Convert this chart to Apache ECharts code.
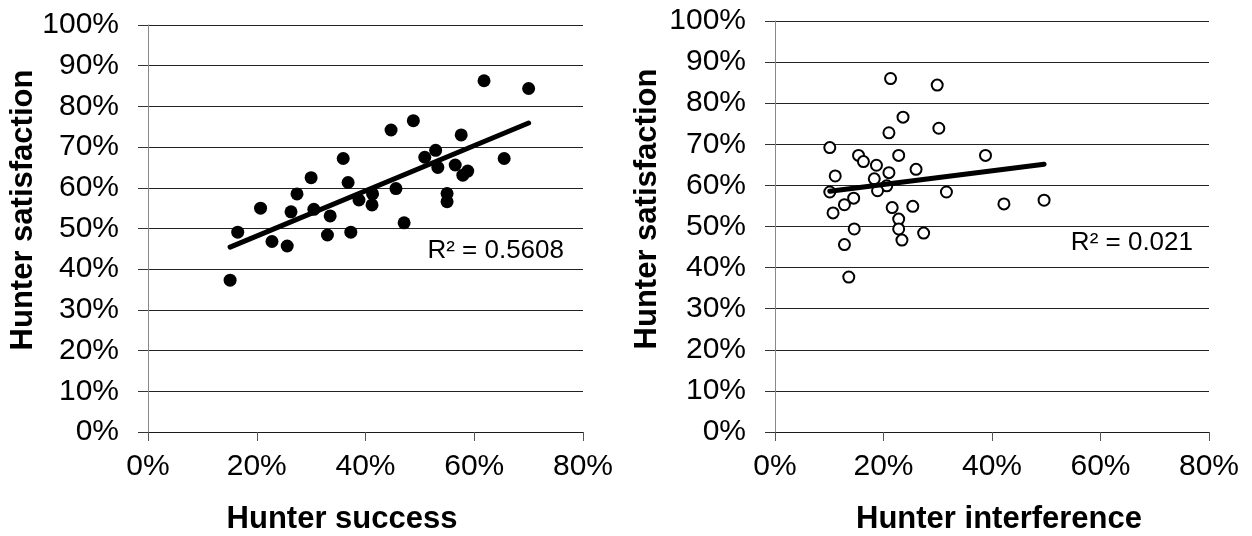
<!DOCTYPE html>
<html>
<head>
<meta charset="utf-8">
<script src="https://cdn.jsdelivr.net/npm/echarts@6/dist/echarts.min.js"></script>
<style>
    html, body { margin: 0; padding: 0; background: #fff; }
    #main { width: 1252px; height: 536px; }
</style>
</head>
<body>
<div id="main"></div>
<script>
    // hunter success vs satisfaction (left panel)
    const successX = [0.151, 0.165, 0.207, 0.228, 0.256, 0.263, 0.274, 0.300, 0.305, 0.330, 0.335,
        0.359, 0.368, 0.373, 0.388, 0.412, 0.413, 0.447, 0.456, 0.471, 0.488, 0.509,
        0.529, 0.533, 0.550, 0.550, 0.565, 0.576, 0.579, 0.588, 0.618, 0.655, 0.700]
    const successY = [0.373, 0.491, 0.550, 0.468, 0.457, 0.541, 0.585, 0.625, 0.547, 0.484, 0.531,
        0.672, 0.613, 0.491, 0.570, 0.558, 0.585, 0.742, 0.598, 0.514, 0.765, 0.675,
        0.692, 0.650, 0.586, 0.566, 0.656, 0.730, 0.631, 0.641, 0.863, 0.672, 0.844]

    // hunter interference vs satisfaction (right panel)
    const interferenceX = [0.213, 0.299, 0.236, 0.210, 0.302, 0.101, 0.154, 0.163, 0.228, 0.187, 0.210,
        0.260, 0.111, 0.183, 0.206, 0.189, 0.101, 0.316, 0.145, 0.128, 0.107, 0.216,
        0.254, 0.228, 0.146, 0.228, 0.274, 0.128, 0.234, 0.136, 0.388, 0.422, 0.496]
    const interferenceY = [0.860, 0.844, 0.766, 0.728, 0.739, 0.692, 0.673, 0.658, 0.673, 0.649, 0.631,
        0.639, 0.623, 0.616, 0.599, 0.587, 0.584, 0.584, 0.569, 0.553, 0.533, 0.546,
        0.549, 0.518, 0.494, 0.494, 0.484, 0.456, 0.467, 0.377, 0.673, 0.555, 0.564]

    const yTicks = { min: 0, max: 1, interval: 0.1 }
    const xTicks = { min: 0, max: 0.8, interval: 0.2 }
    const labels = {
        yTitle: 'Hunter satisfaction',
        xTitleA: 'Hunter success',
        xTitleB: 'Hunter interference',
        r2A: 'R² = 0.5608',
        r2B: 'R² = 0.021'
    }

    const font = 'Liberation Sans, Arial, sans-serif'
    const pct = v => Math.round(v * 100) + '%'

    // least squares line, drawn across the range of x
    function trend(xs, ys) {
        const n = xs.length
        const mx = xs.reduce((a, b) => a + b, 0) / n
        const my = ys.reduce((a, b) => a + b, 0) / n
        let sxy = 0, sxx = 0
        xs.forEach((x, i) => {
            sxy += (x - mx) * (ys[i] - my)
            sxx += (x - mx) * (x - mx)
        })
        const b = sxy / sxx
        const a = my - b * mx
        const x0 = Math.min(...xs), x1 = Math.max(...xs)
        return [[x0, a + b * x0], [x1, a + b * x1]]
    }

    function xAxis(idx) {
        return {
            type: 'value', gridIndex: idx,
            min: xTicks.min, max: xTicks.max, interval: xTicks.interval,
            axisLine: { lineStyle: { color: '#1a1a1a', width: 1 } },
            axisTick: { show: true, length: 9, lineStyle: { color: '#555' } },
            axisLabel: { formatter: pct, color: '#000', fontSize: 30, fontFamily: font, margin: 20 },
            splitLine: { show: false }
        }
    }
    function yAxis(idx) {
        return {
            type: 'value', gridIndex: idx,
            min: yTicks.min, max: yTicks.max, interval: yTicks.interval,
            axisLine: { show: true, lineStyle: { color: '#888', width: 1 } },
            axisTick: { show: true, length: 10, lineStyle: { color: '#333' } },
            axisLabel: { formatter: pct, color: '#000', fontSize: 30, fontFamily: font, margin: 29 },
            splitLine: { show: true, lineStyle: { color: '#222', width: 1 } }
        }
    }

    const chart = echarts.init(document.getElementById('main'))
    chart.setOption({
        animation: false,
        backgroundColor: '#fff',
        grid: [
            { left: 148, right: 669, top: 25, bottom: 104 },
            { left: 775, right: 43, top: 21, bottom: 104 }
        ],
        xAxis: [xAxis(0), xAxis(1)],
        yAxis: [yAxis(0), yAxis(1)],
        series: [
            {
                type: 'scatter', xAxisIndex: 0, yAxisIndex: 0,
                data: successX.map((x, i) => [x, successY[i]]),
                symbol: 'circle', symbolSize: 13,
                itemStyle: { color: '#000', opacity: 1 },
                z: 3
            },
            {
                type: 'line', xAxisIndex: 0, yAxisIndex: 0,
                data: trend(successX, successY),
                showSymbol: false, symbol: 'none',
                lineStyle: { color: '#000', width: 5, cap: 'round' },
                z: 4
            },
            {
                type: 'scatter', xAxisIndex: 1, yAxisIndex: 1,
                data: interferenceX.map((x, i) => [x, interferenceY[i]]),
                symbol: 'circle', symbolSize: 11,
                itemStyle: { color: '#fff', borderColor: '#000', borderWidth: 2, opacity: 1 },
                z: 3
            },
            {
                type: 'line', xAxisIndex: 1, yAxisIndex: 1,
                data: trend(interferenceX, interferenceY),
                showSymbol: false, symbol: 'none',
                lineStyle: { color: '#000', width: 5, cap: 'round' },
                z: 4
            }
        ],
        // axis titles and R² notes
        graphic: [
            { type: 'text', x: 23, y: 210, rotation: Math.PI / 2,
              style: { text: labels.yTitle, font: 'bold 31px ' + font, fill: '#000', align: 'center', verticalAlign: 'middle' } },
            { type: 'text', x: 647, y: 209, rotation: Math.PI / 2,
              style: { text: labels.yTitle, font: 'bold 31px ' + font, fill: '#000', align: 'center', verticalAlign: 'middle' } },
            { type: 'text', x: 342, y: 519,
              style: { text: labels.xTitleA, font: 'bold 31px ' + font, fill: '#000', align: 'center', verticalAlign: 'middle' } },
            { type: 'text', x: 999, y: 519,
              style: { text: labels.xTitleB, font: 'bold 31px ' + font, fill: '#000', align: 'center', verticalAlign: 'middle' } },
            { type: 'text', x: 564, y: 251,
              style: { text: labels.r2A, font: '26px ' + font, fill: '#000', align: 'right', verticalAlign: 'middle' } },
            { type: 'text', x: 1193, y: 243,
              style: { text: labels.r2B, font: '26px ' + font, fill: '#000', align: 'right', verticalAlign: 'middle' } }
        ]
    })
</script>
</body>
</html>
